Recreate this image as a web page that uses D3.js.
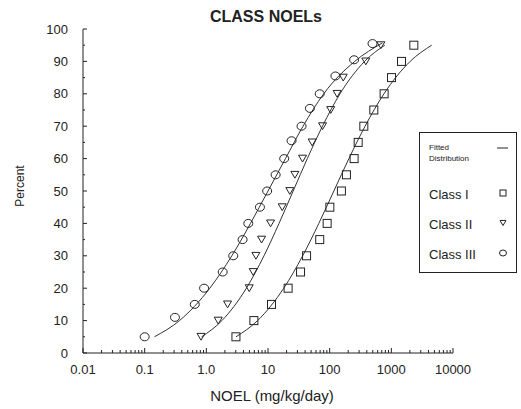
<!DOCTYPE html>
<html>
<head>
<meta charset="utf-8">
<script src="https://cdn.jsdelivr.net/npm/d3@7"></script>
<style>
    body { margin: 0; background: #fff; }
    text { font-family: "Liberation Sans", Arial, sans-serif; fill: #222; }
</style>
</head>
<body>
<svg id="chart" width="521" height="409"></svg>
<script>
// Observed points (NOEL in mg/kg/day, percent)
const class1Points = [
    [3.02, 5], [5.9, 10], [11.4, 15], [21.2, 20], [33.7, 25], [42.2, 30], [69, 35],
    [91, 40], [100.7, 45], [155, 50], [187, 55], [249, 60], [290, 65], [358, 70],
    [520, 75], [764, 80], [1007, 85], [1462, 90], [2316, 95]
];
const class2Points = [
    [0.82, 5], [1.56, 10], [2.21, 15], [4.96, 20], [5.75, 25], [6.37, 30], [7.87, 35],
    [11, 40], [17, 45], [22.6, 50], [27.3, 55], [36.3, 60], [52, 65], [76.7, 70],
    [104, 75], [132, 80], [166, 85], [386, 90], [676, 95]
];
const class3Points = [
    [0.1, 5], [0.31, 11], [0.65, 15], [0.92, 20], [1.84, 25], [2.73, 30], [3.87, 35],
    [4.79, 40], [7.4, 45], [9.7, 50], [13.3, 55], [18.3, 60], [24.1, 65.5], [35, 70],
    [47.8, 75.5], [69, 80], [124, 85.5], [249, 90.5], [495, 95.5]
];

// Fitted distribution curves
const class1Fit = [
    [3.03, 5], [6.78, 10], [18, 20], [36.5, 30], [66.7, 40], [117, 50],
    [205, 60], [375, 70], [759, 80], [2018, 90], [4519, 95]
];
const class2Fit = [
    [0.84, 5], [1.79, 10], [4.46, 20], [8.61, 30], [15.1, 40], [25.6, 50],
    [43.4, 60], [76.4, 70], [147, 80], [368, 90], [783, 95]
];
const class3Fit = [
    [0.144, 5], [0.367, 10], [1.14, 20], [2.59, 30], [5.2, 40], [10, 50],
    [19.2, 60], [37, 70], [80, 80], [255, 90], [720, 95.7]
];

const xTickValues = [0.01, 0.1, 1, 10, 100, 1000, 10000];
const xTickLabels = ["0.01", "0.1", "1.0", "10", "100", "1000", "10000"];
const yTickValues = [0, 10, 20, 30, 40, 50, 60, 70, 80, 90, 100];

const legendItems = ["Class I", "Class II", "Class III"];

const svg = d3.select("#chart");
const ink = "#222";

// Plot area
const plotLeft = 83, plotRight = 453, plotTop = 29, plotBottom = 353;

const xScale = d3.scaleLog()
    .domain([0.01, 10000])
    .range([plotLeft, plotRight]);

const yScale = d3.scaleLinear()
    .domain([0, 100])
    .range([plotBottom, plotTop]);

// Title
svg.append("text")
    .attr("x", 266)
    .attr("y", 22)
    .attr("text-anchor", "middle")
    .style("font-size", "16px")
    .style("font-weight", "bold")
    .text("CLASS NOELs");

// X axis with decade and minor ticks pointing inward
const minorX = [];
for (let e = -2; e < 4; e++) {
    for (let m = 2; m <= 9; m++) minorX.push(m * Math.pow(10, e));
}

const xAxis = svg.append("g").attr("transform", `translate(0,${plotBottom})`);
xAxis.append("line")
    .attr("x1", plotLeft).attr("x2", plotRight)
    .attr("stroke", ink);
xAxis.selectAll(".minor")
    .data(minorX)
    .enter().append("line")
    .attr("x1", d => xScale(d)).attr("x2", d => xScale(d))
    .attr("y1", 0).attr("y2", -3)
    .attr("stroke", ink);
xAxis.selectAll(".major")
    .data(xTickValues)
    .enter().append("line")
    .attr("x1", d => xScale(d)).attr("x2", d => xScale(d))
    .attr("y1", 0).attr("y2", -5)
    .attr("stroke", ink);
xAxis.selectAll(".label")
    .data(xTickValues)
    .enter().append("text")
    .attr("x", d => xScale(d))
    .attr("y", 21)
    .attr("text-anchor", "middle")
    .style("font-size", "13px")
    .text((d, i) => xTickLabels[i]);

svg.append("text")
    .attr("x", 272)
    .attr("y", 401)
    .attr("text-anchor", "middle")
    .style("font-size", "15px")
    .text("NOEL (mg/kg/day)");

// Y axis
const minorY = d3.range(5, 100, 10);
const yAxis = svg.append("g").attr("transform", `translate(${plotLeft},0)`);
yAxis.append("line")
    .attr("y1", plotTop).attr("y2", plotBottom)
    .attr("stroke", ink);
yAxis.selectAll(".minor")
    .data(minorY)
    .enter().append("line")
    .attr("y1", d => yScale(d)).attr("y2", d => yScale(d))
    .attr("x1", 0).attr("x2", 2)
    .attr("stroke", ink);
yAxis.selectAll(".major")
    .data(yTickValues)
    .enter().append("line")
    .attr("y1", d => yScale(d)).attr("y2", d => yScale(d))
    .attr("x1", 0).attr("x2", 4)
    .attr("stroke", ink);
yAxis.selectAll(".label")
    .data(yTickValues)
    .enter().append("text")
    .attr("x", -15)
    .attr("y", d => yScale(d) + 4.5)
    .attr("text-anchor", "end")
    .style("font-size", "13px")
    .text(d => d);

svg.append("text")
    .attr("transform", "translate(24,186) rotate(-90)")
    .attr("text-anchor", "middle")
    .style("font-size", "12px")
    .text("Percent");

// Fitted lines
const line = d3.line()
    .x(d => xScale(d[0]))
    .y(d => yScale(d[1]))
    .curve(d3.curveMonotoneX);

[class1Fit, class2Fit, class3Fit].forEach(fit => {
    svg.append("path")
        .datum(fit)
        .attr("fill", "none")
        .attr("stroke", "#333")
        .attr("stroke-width", 1)
        .attr("d", line);
});

// Markers
function drawSquare(sel, size) {
    sel.append("rect")
        .attr("x", -size / 2).attr("y", -size / 2)
        .attr("width", size).attr("height", size)
        .attr("fill", "none").attr("stroke", ink);
}
function drawTriangle(sel, size) {
    const h = size * 0.85;
    sel.append("path")
        .attr("d", `M${-size / 2},${-h / 2}L${size / 2},${-h / 2}L0,${h / 2}Z`)
        .attr("fill", "none").attr("stroke", ink);
}
function drawCircle(sel, size) {
    sel.append("ellipse")
        .attr("rx", size / 2 + 0.5).attr("ry", size / 2)
        .attr("fill", "none").attr("stroke", ink);
}

const markerSets = [
    { data: class1Points, draw: drawSquare },
    { data: class2Points, draw: drawTriangle },
    { data: class3Points, draw: drawCircle }
];

markerSets.forEach(set => {
    const pts = svg.selectAll(null)
        .data(set.data)
        .enter().append("g")
        .attr("transform", d => `translate(${xScale(d[0])},${yScale(d[1])})`);
    set.draw(pts, 8);
});

// Legend
const legend = svg.append("g");
legend.append("rect")
    .attr("x", 419.5).attr("y", 132.5)
    .attr("width", 97).attr("height", 140)
    .attr("fill", "#fff").attr("stroke", ink);
legend.append("text")
    .attr("x", 429).attr("y", 150)
    .style("font-size", "8px")
    .text("Fitted");
legend.append("text")
    .attr("x", 429).attr("y", 161)
    .style("font-size", "8px")
    .text("Distribution");
legend.append("line")
    .attr("x1", 497).attr("x2", 508)
    .attr("y1", 148).attr("y2", 148)
    .attr("stroke", ink);

const legendY = d3.scalePoint()
    .domain(legendItems)
    .range([194, 254]);
const legendDraw = [drawSquare, drawTriangle, drawCircle];

legendItems.forEach((name, i) => {
    legend.append("text")
        .attr("x", 429)
        .attr("y", legendY(name) + 4.5)
        .style("font-size", "13px")
        .text(name);
    const g = legend.append("g")
        .attr("transform", `translate(503,${legendY(name) - 1})`);
    legendDraw[i](g, 6);
});
</script>
</body>
</html>
